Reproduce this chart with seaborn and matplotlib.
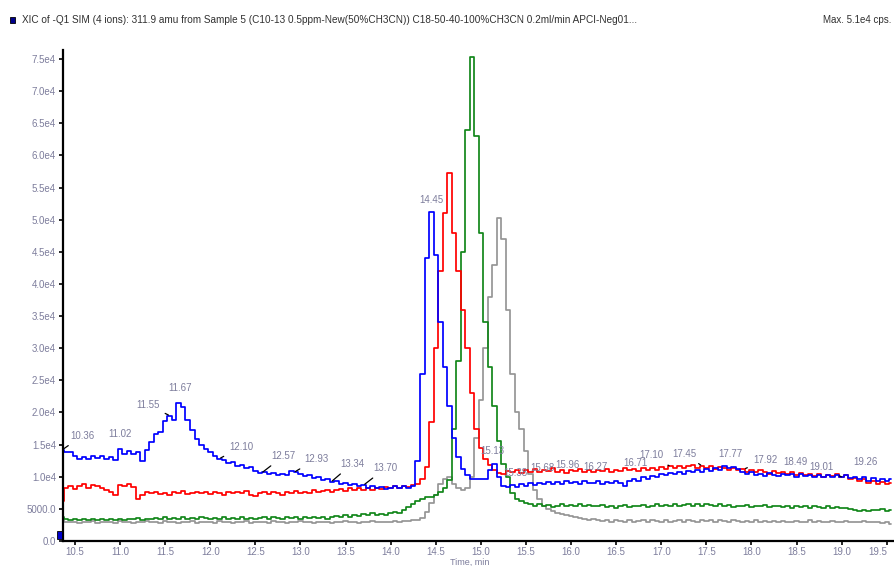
import numpy as np
import pandas as pd
import matplotlib
matplotlib.use("Agg")
import matplotlib.pyplot as plt
import seaborn as sns

# ---------------- data (intensities in thousands of cps, scan every 0.05 min from 10.35) ----------------
t_start = 10.35
t_step = 0.05

blue_k = [
    14.2, 13.8, 13.9, 13.3, 12.8, 13.0, 12.7, 13.2, 12.9, 13.3, 12.8, 13.1, 12.6, 14.3, 13.6, 14.0, 13.5, 13.9, 12.5, 14.2,
    15.4, 16.6, 17.0, 18.6, 19.5, 18.8, 21.5, 20.8, 18.9, 17.2, 15.8, 14.9, 14.3, 13.8, 13.2, 12.8, 12.6, 12.1, 12.3, 11.7,
    11.9, 11.3, 11.5, 10.9, 10.6, 10.8, 10.4, 10.6, 10.2, 10.5, 10.3, 10.9, 10.7, 10.4, 10.1, 10.3, 9.8, 9.9, 9.5, 9.7,
    9.2, 9.4, 8.9, 9.1, 8.7, 8.9, 8.5, 8.7, 8.3, 8.5, 8.2, 8.4, 8.1, 8.3, 8.5, 8.2, 8.6, 8.3, 8.6, 12.5,
    26.0, 44.0, 51.2, 44.5, 34.0, 27.0, 21.0, 16.0, 13.0, 11.2, 10.2, 9.7, 9.6, 9.7, 9.6, 11.0, 12.0, 10.0, 8.6, 8.4,
    8.7, 8.4, 8.8, 8.6, 9.0, 8.7, 9.1, 8.8, 9.2, 8.9, 9.2, 8.9, 9.3, 9.0, 9.2, 8.9, 9.3, 9.1, 9.0, 9.3,
    8.9, 9.2, 9.0, 9.3, 9.1, 8.6, 9.4, 9.6, 9.4, 9.9, 9.7, 10.1, 9.9, 10.4, 10.2, 10.6, 10.4, 10.8, 10.5, 10.9,
    10.7, 11.0, 10.8, 11.2, 10.9, 11.3, 11.1, 11.6, 11.3, 11.5, 11.2, 10.8, 10.5, 10.7, 10.2, 10.5, 10.1, 10.6, 10.3, 10.1,
    10.5, 10.2, 10.4, 10.0, 10.4, 10.1, 10.3, 9.9, 10.2, 10.0, 10.3, 9.9, 10.2, 10.0, 10.3, 9.8, 10.0, 9.6, 9.9, 9.4,
    9.8, 9.3, 9.7, 9.4, 9.6,
]

red_k = [
    6.2, 8.3, 8.6, 8.1, 8.6, 8.8, 8.3, 8.7, 8.5, 8.2, 8.0, 7.6, 7.2, 8.7, 8.5, 8.8, 8.4, 6.6, 7.2, 7.6,
    7.4, 7.7, 7.3, 7.5, 7.2, 7.6, 7.4, 7.8, 7.3, 7.5, 7.7, 7.4, 7.6, 7.3, 7.7, 7.5, 7.2, 7.6, 7.4, 7.7,
    7.5, 7.8, 7.2, 7.0, 7.4, 7.6, 7.3, 7.7, 7.5, 7.2, 7.6, 7.4, 7.8, 7.5, 7.7, 7.4, 7.9, 7.6, 7.8, 8.0,
    7.7, 7.9, 8.1, 7.8, 8.2, 7.9, 8.3, 8.0, 8.2, 7.9, 8.3, 8.1, 8.4, 8.2, 8.5, 8.3, 8.6, 8.4, 8.7, 8.9,
    9.6, 11.5, 18.5, 30.0, 42.0, 51.0, 57.2, 48.0, 42.0, 36.0, 30.0, 23.0, 17.5, 14.5, 12.8, 11.8, 11.0, 10.6, 10.4, 10.9,
    10.7, 11.1, 10.6, 11.0, 10.8, 11.2, 10.7, 11.0, 10.9, 11.3, 10.8, 11.1, 10.6, 11.0, 10.9, 11.2, 10.7, 11.1, 10.8, 11.0,
    10.9, 11.2, 10.8, 11.1, 10.9, 11.3, 11.0, 11.2, 10.9, 11.4, 11.1, 11.3, 11.0, 11.5, 11.2, 11.6, 11.3, 11.7, 11.4, 11.6,
    11.8, 11.4, 11.7, 11.3, 11.6, 11.2, 11.5, 11.3, 11.1, 11.4, 11.0, 11.2, 10.8, 11.1, 10.7, 11.0, 10.8, 10.5, 10.9, 10.6,
    10.8, 10.4, 10.7, 10.3, 10.6, 10.2, 10.5, 10.1, 10.4, 10.0, 10.3, 10.1, 10.4, 9.9, 10.2, 9.6, 9.8, 9.4, 9.6, 9.1,
    9.3, 8.9, 9.2, 8.8, 9.0,
]

green_k = [
    3.8, 3.5, 3.3, 3.4, 3.2, 3.4, 3.3, 3.5, 3.2, 3.4, 3.3, 3.5, 3.3, 3.4, 3.2, 3.5, 3.4, 3.6, 3.3, 3.5,
    3.4, 3.6, 3.5, 3.7, 3.4, 3.6, 3.5, 3.7, 3.4, 3.6, 3.5, 3.7, 3.6, 3.4, 3.6, 3.5, 3.7, 3.4, 3.6, 3.5,
    3.7, 3.5, 3.6, 3.4, 3.6, 3.8, 3.5, 3.7, 3.6, 3.5, 3.7, 3.6, 3.8, 3.5, 3.7, 3.6, 3.8, 3.6, 3.7, 3.5,
    3.7, 3.9, 3.7, 4.0, 3.8, 4.1, 3.9, 4.2, 4.0, 4.3, 4.1, 4.2, 4.1, 4.3, 4.5, 4.3, 4.9, 5.3, 5.8, 6.2,
    6.5, 6.8, 6.9, 7.2, 7.6, 8.2, 9.5, 17.5, 28.0, 45.0, 64.0, 75.3, 63.0, 48.0, 34.0, 27.0, 21.0, 15.5, 12.0, 10.0,
    7.5, 6.6, 6.2, 5.9, 5.8, 5.5, 5.7, 5.4, 5.6, 5.3, 5.5, 5.7, 5.4, 5.6, 5.5, 5.7, 5.4, 5.6, 5.5, 5.4,
    5.6, 5.3, 5.5, 5.2, 5.4, 5.6, 5.3, 5.5, 5.4, 5.6, 5.3, 5.5, 5.7, 5.4, 5.6, 5.5, 5.7, 5.4, 5.6, 5.8,
    5.5, 5.7, 5.4, 5.8, 5.6, 5.5, 5.7, 5.4, 5.6, 5.3, 5.5, 5.4, 5.6, 5.3, 5.5, 5.4, 5.6, 5.3, 5.5, 5.4,
    5.3, 5.5, 5.2, 5.4, 5.3, 5.5, 5.2, 5.4, 5.3, 5.1, 5.4, 5.2, 5.3, 5.1, 5.2, 5.0, 4.9, 4.7, 4.8, 4.7,
    4.9, 4.8, 5.0, 4.7, 4.9,
]

grey_k = [
    3.2, 3.0, 2.9, 3.0, 2.8, 3.0, 2.9, 3.1, 2.8, 3.0, 2.9, 3.0, 2.8, 3.1, 2.9, 3.0, 2.8, 3.0, 2.9, 3.1,
    2.9, 3.0, 2.8, 3.1, 2.9, 3.0, 2.8, 3.0, 2.9, 3.1, 2.8, 3.0, 2.9, 3.0, 2.8, 3.1, 2.9, 3.0, 2.8, 3.0,
    2.9, 3.1, 2.8, 3.0, 2.9, 3.0, 2.8, 3.1, 2.9, 3.0, 2.8, 3.0, 2.9, 3.1, 2.9, 3.0, 2.8, 3.0, 2.9, 3.0,
    2.8, 3.0, 2.9, 3.1, 2.9, 3.0, 2.8, 3.0, 2.9, 3.1, 2.9, 3.0, 2.9, 3.0, 3.1, 3.0, 3.1, 3.1, 3.2, 3.3,
    3.6, 4.5, 5.9, 7.2, 8.8, 9.6, 10.0, 8.8, 8.2, 7.9, 8.3, 10.0, 16.0, 22.0, 30.0, 38.0, 43.0, 50.3, 47.0, 36.0,
    26.0, 20.0, 17.5, 14.0, 10.5, 8.0, 6.5, 5.4, 5.0, 4.6, 4.4, 4.2, 4.1, 3.9, 3.8, 3.6, 3.5, 3.3, 3.4, 3.2,
    3.1, 3.3, 3.0, 3.2, 3.1, 2.9, 3.2, 3.0, 3.1, 3.3, 3.0, 3.2, 3.1, 2.9, 3.2, 3.0, 3.1, 3.3, 3.0, 3.2,
    3.1, 3.0, 3.2, 3.1, 3.3, 3.0, 3.2, 3.1, 3.0, 3.2, 3.1, 2.9, 3.1, 3.0, 3.2, 3.0, 3.1, 2.9, 3.1, 3.0,
    3.1, 2.9, 3.0, 3.1, 2.9, 3.0, 3.2, 3.0, 3.1, 2.9, 3.0, 3.1, 2.9, 3.0, 3.1, 3.0, 2.9, 3.0, 3.1, 2.9,
    3.0, 2.9, 2.8, 2.9, 2.7,
]

series_names = ["grey", "green", "red", "blue"]
series_colors = ["#959595", "#12861a", "#ff0000", "#0000ff"]

x_ticks = [10.5, 11.0, 11.5, 12.0, 12.5, 13.0, 13.5, 14.0, 14.5, 15.0, 15.5, 16.0, 16.5, 17.0, 17.5, 18.0, 18.5, 19.0, 19.5]
x_tick_labels = ["10.5", "11.0", "11.5", "12.0", "12.5", "13.0", "13.5", "14.0", "14.5", "15.0", "15.5", "16.0", "16.5",
                 "17.0", "17.5", "18.0", "18.5", "19.0", "19.5"]
y_ticks = [0, 5000, 10000, 15000, 20000, 25000, 30000, 35000, 40000, 45000, 50000, 55000, 60000, 65000, 70000, 75000]
y_tick_labels = ["0.0", "5000.0", "1.0e4", "1.5e4", "2.0e4", "2.5e4", "3.0e4", "3.5e4", "4.0e4", "4.5e4", "5.0e4",
                 "5.5e4", "6.0e4", "6.5e4", "7.0e4", "7.5e4"]

# peak labels: (text, series, retention time)
peak_texts = ["10.36", "11.02", "11.55", "11.67", "12.10", "12.57", "12.93", "13.34", "13.70", "14.45", "15.13",
              "15.38", "15.68", "15.96", "16.27", "16.71", "17.10", "17.45", "17.77", "17.92", "18.49", "19.01", "19.26"]
peak_series = ["blue", "blue", "blue", "blue", "blue", "blue", "blue", "blue", "blue", "blue", "blue",
               "blue", "blue", "blue", "blue", "blue", "red", "red", "blue", "red", "blue", "red", "blue"]

title_text = ("XIC of -Q1 SIM (4 ions): 311.9 amu from Sample 5 (C10-13 0.5ppm-New(50%CH3CN)) "
              "C18-50-40-100%CH3CN 0.2ml/min APCI-Neg01...")
max_text = "Max. 5.1e4 cps."
x_label = "Time, min"

# ---------------- build table ----------------
values = {"blue": blue_k, "red": red_k, "green": green_k, "grey": grey_k}
frames = []
for name in series_names:
    v = np.array(values[name]) * 1000.0
    t = t_start + t_step * np.arange(len(v))
    frames.append(pd.DataFrame({"time": t, "intensity": v, "series": name}))
df = pd.concat(frames, ignore_index=True)

# ---------------- style ----------------
sns.set_theme(style="white")
plt.rcParams["font.family"] = ["Liberation Sans", "DejaVu Sans"]
label_color = "#7d7d9c"

W, H = 894, 566
fig = plt.figure(figsize=(W / 100, H / 100), dpi=100)
ax_left, ax_bottom, ax_right, ax_top = 63, 25, 894, 50
ax = fig.add_axes([ax_left / W, ax_bottom / H, (ax_right - ax_left) / W, (H - ax_bottom - ax_top) / H])

sns.lineplot(data=df, x="time", y="intensity", hue="series", hue_order=series_names,
             palette=dict(zip(series_names, series_colors)), estimator=None, sort=False,
             drawstyle="steps-mid", linewidth=1.25, legend=False, ax=ax)

ax.set_xlim(10.367, 19.58)
ax.set_ylim(0, 76400)
ax.set_xticks(x_ticks)
ax.set_xticklabels(x_tick_labels)
ax.set_yticks(y_ticks)
ax.set_yticklabels(y_tick_labels)
ax.set_xlabel("")
ax.set_ylabel("")
for s in ["top", "right"]:
    ax.spines[s].set_visible(False)
for s in ["left", "bottom"]:
    ax.spines[s].set_color("black")
    ax.spines[s].set_linewidth(1.6)
ax.tick_params(axis="both", which="major", direction="out", length=3, width=1.2, color="black",
               labelsize=7, labelcolor=label_color, pad=2)
ax.tick_params(axis="x", bottom=True, pad=1.5)
ax.tick_params(axis="y", left=True)
ax.grid(False)
# keep the last (edge) tick label inside the picture
ax.get_xticklabels()[-1].set_horizontalalignment("right")

# peak labels
offsets = {
    "10.36": (20, 9, True), "11.02": (-2, 10, False), "11.55": (-22, 6, True), "11.67": (0, 10, False),
    "12.10": (22, 7, True), "12.57": (22, 12, True), "12.93": (22, 8, True), "13.34": (21, 13, True),
    "13.70": (22, 12, True), "14.45": (0, 7, False), "15.13": (0, 8, False),
    "15.38": (0, 9, False), "15.68": (0, 11, False), "15.96": (0, 11, False), "16.27": (0, 11, False),
    "16.71": (0, 11, False), "17.10": (-19, 6, True), "17.45": (-18, 7, True), "17.77": (0, 9, False),
    "17.92": (21, 4, True), "18.49": (0, 10, False), "19.01": (-21, 5, True), "19.26": (0, 10, False),
}
for txt, ser in zip(peak_texts, peak_series):
    tt = float(txt)
    d = df[df["series"] == ser]
    idx = (d["time"] - tt).abs().idxmin()
    yv = d.loc[idx, "intensity"]
    dx, dy, lead = offsets[txt]
    ap = dict(arrowstyle="-", color="black", lw=0.9, shrinkA=2, shrinkB=1) if lead else None
    ax.annotate(txt, xy=(tt, yv), xytext=(dx, dy), textcoords="offset pixels",
                ha="center", va="bottom", fontsize=7, color=label_color, arrowprops=ap,
                annotation_clip=False)

# header texts
fig.text(22 / W, 1 - 20 / H, title_text, fontsize=7.2, color="#303030", va="center", ha="left")
fig.text(891 / W, 1 - 20 / H, max_text, fontsize=7.0, color="#303030", va="center", ha="right")
fig.patches.append(plt.Rectangle((10 / W, 1 - 23 / H), 5 / W, 6 / H, transform=fig.transFigure,
                                 facecolor="#00008b", edgecolor="black", lw=0.6))
fig.patches.append(plt.Rectangle((57 / W, 27 / H), 5 / W, 8 / H, transform=fig.transFigure,
                                 facecolor="#0000cc", edgecolor="black", lw=0.6))
fig.text(470 / W, 1 - 557.5 / H, x_label, fontsize=6.5, color=label_color, va="top", ha="center")

fig.savefig("out.png", dpi=100)
